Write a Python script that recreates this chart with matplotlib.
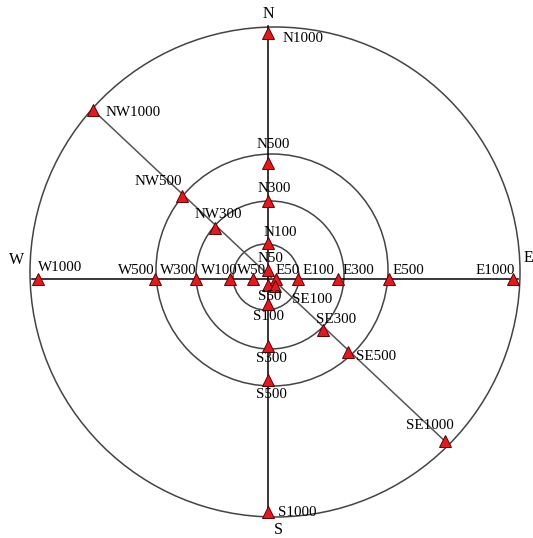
import numpy as np
import matplotlib
matplotlib.use("Agg")
import matplotlib.pyplot as plt
from matplotlib.patches import Circle

# sampling points: name, bearing (deg, clockwise from N), plotted radius (px)
names = ["N1000", "N500", "N300", "N100", "N50",
         "S50", "S100", "S300", "S500", "S1000",
         "W1000", "W500", "W300", "W100", "W50",
         "E50", "E100", "E300", "E500", "E1000",
         "NW1000", "NW500", "NW300",
         "SE100", "SE300", "SE500", "SE1000"]
bearings = [0, 0, 0, 0, 0,
            180, 180, 180, 180, 180,
            270, 270, 270, 270, 270,
            90, 90, 90, 90, 90,
            314, 314, 314,
            132.5, 132.5, 132.5, 132.5]
radii = [246, 116, 78, 36, 9,
         6, 25, 67, 101, 233,
         230, 113, 72, 38, 15,
         8, 30, 70, 121, 245,
         243, 120, 74,
         10, 75, 108, 240]

# label offsets from marker (px, right / down) and alignment
label_off = {
    "N1000": (15, 5, "left"), "N500": (5, -18, "center"), "N300": (6, -12, "center"),
    "N100": (12, -10, "center"), "N50": (2, -11, "center"),
    "S50": (2, 12, "center"), "S100": (0, 12, "center"), "S300": (3, 13, "center"),
    "S500": (3, 15, "center"), "S1000": (10, 0, "left"),
    "W1000": (0, -12, "left"), "W500": (-19, -9, "center"), "W300": (-18, -9, "center"),
    "W100": (-11, -9, "center"), "W50": (-1, -9, "center"),
    "E50": (12, -9, "center"), "E100": (20, -9, "center"), "E300": (20, -9, "center"),
    "E500": (19, -9, "center"), "E1000": (-18, -9, "center"),
    "NW1000": (12, 2, "left"), "NW500": (-23, -14, "center"), "NW300": (3, -13, "center"),
    "SE100": (37, 14, "center"), "SE300": (13, -10, "center"), "SE500": (28, 5, "center"),
    "SE1000": (-15, -16, "center"),
}

cx, cy = 268, 279          # where the survey lines cross
ring_x = [275, 272, 270, 266]
ring_y = [272, 270, 275, 277]
ring_r = [245, 116, 74, 33]

fig = plt.figure(figsize=(5.33, 5.38), dpi=100)
ax = fig.add_axes([0, 0, 1, 1])
ax.set_xlim(0, 533)
ax.set_ylim(538, 0)
ax.axis("off")

for x0, y0, r in zip(ring_x, ring_y, ring_r):
    ax.add_patch(Circle((x0, y0), r, fill=False, ec="#444444", lw=1.1))

b = np.radians(bearings)
r = np.array(radii, dtype=float)
px = cx + r * np.sin(b)
py = cy - r * np.cos(b)
pos = dict(zip(names, zip(px, py)))

# survey lines
ax.plot([cx, cx], [26, 518], color="black", lw=1.1)
ax.plot([32, 518], [cy, cy], color="black", lw=1.1)
ax.plot([pos["NW1000"][0], pos["SE1000"][0]], [pos["NW1000"][1], pos["SE1000"][1]],
        color="#555555", lw=1.1)

ax.plot(px, py, linestyle="none", marker="^", ms=9, mfc="#e8171d", mec="#5a0000", mew=0.7)

font = "Liberation Serif"
for n in names:
    dx, dy, ha = label_off[n]
    ax.text(pos[n][0] + dx, pos[n][1] + dy, n, ha=ha, va="center",
            fontsize=10.8, family=font)

for t, x, y in [("N", 268, 14), ("S", 278, 530), ("W", 17, 260), ("E", 528, 258)]:
    ax.text(x, y, t, ha="center", va="center", fontsize=11.5, family=font)

fig.savefig("out.png", dpi=100, facecolor="white")
